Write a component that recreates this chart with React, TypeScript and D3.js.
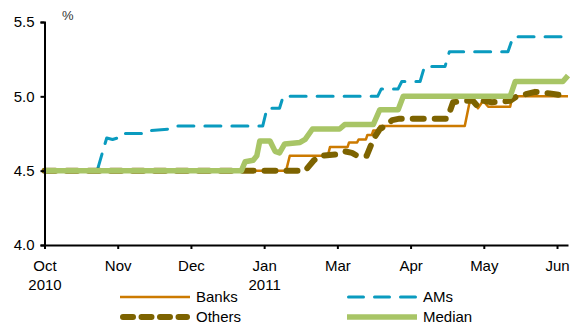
import React, { useEffect, useRef } from 'react';
import * as d3 from 'd3';

// x positions are in "tick units": 0 = Oct 2010, 7 = Jun 2011 (ticks evenly spaced)
const tickLabels = ['Oct', 'Nov', 'Dec', 'Jan', 'Mar', 'Apr', 'May', 'Jun'];
const tickYears = ['2010', '', '', '2011', '', '', '', ''];
const yTicks = [4.0, 4.5, 5.0, 5.5];

const banks: [number, number][] = [
	[0, 4.5], [3.3, 4.5], [3.35, 4.6], [3.87, 4.6], [3.9, 4.66], [4.14, 4.66],
	[4.16, 4.69], [4.27, 4.69], [4.29, 4.71], [4.39, 4.71], [4.41, 4.74],
	[4.47, 4.74], [4.49, 4.77], [4.55, 4.77], [4.58, 4.8], [5.74, 4.8],
	[5.81, 4.97], [5.85, 4.97], [5.92, 4.92], [5.99, 4.97], [6.06, 4.93],
	[6.36, 4.93], [6.39, 5.0], [7.15, 5.0],
];

const ams: [number, number][] = [
	[0, 4.5], [0.72, 4.5], [0.79, 4.62], [0.85, 4.72], [0.93, 4.71], [1.0, 4.72],
	[1.05, 4.75], [1.4, 4.75], [1.46, 4.77], [1.7, 4.78], [1.8, 4.8],
	[2.98, 4.8], [3.04, 4.92], [3.21, 4.92], [3.26, 5.0], [4.55, 5.0],
	[4.6, 5.05], [4.83, 5.05], [4.88, 5.1], [5.13, 5.1], [5.19, 5.2],
	[5.47, 5.2], [5.53, 5.3], [6.33, 5.3], [6.4, 5.4], [7.15, 5.4],
];

const others: [number, number][] = [
	[0, 4.5], [3.56, 4.5], [3.68, 4.57], [3.76, 4.6], [4.0, 4.61], [4.1, 4.63],
	[4.2, 4.62], [4.27, 4.6], [4.4, 4.6], [4.5, 4.72], [4.58, 4.78],
	[4.65, 4.8], [4.75, 4.84], [4.85, 4.85], [5.5, 4.85], [5.58, 4.96],
	[5.74, 4.97], [5.85, 4.97], [5.92, 4.93], [5.99, 4.97], [6.11, 4.96],
	[6.36, 4.97], [6.45, 5.0], [6.7, 5.03], [6.9, 5.02], [7.15, 5.0],
];

const median: [number, number][] = [
	[0, 4.5], [2.69, 4.5], [2.74, 4.56], [2.85, 4.57], [2.9, 4.6], [2.94, 4.7],
	[3.08, 4.7], [3.15, 4.63], [3.21, 4.62], [3.28, 4.68], [3.49, 4.69],
	[3.56, 4.71], [3.66, 4.78], [4.03, 4.78], [4.1, 4.81], [4.49, 4.81],
	[4.58, 4.91], [4.83, 4.91], [4.9, 5.0], [6.36, 5.0], [6.43, 5.1],
	[7.08, 5.1], [7.15, 5.14],
];

const series = [
	{ name: 'Banks', data: banks, color: '#CC7A00', width: 2.5, dash: null, cap: 'butt' },
	{ name: 'AMs', data: ams, color: '#0A9BBF', width: 3, dash: '16 11', cap: 'round' },
	{ name: 'Others', data: others, color: '#7D6300', width: 6, dash: '11 11', cap: 'round' },
	{ name: 'Median', data: median, color: '#A8C566', width: 5.5, dash: null, cap: 'butt' },
];

const W = 570;
const H = 327;
const FONT = 'Arial, "Liberation Sans", sans-serif';

export default function App() {
	const ref = useRef<SVGSVGElement | null>(null);

	useEffect(() => {
		const svg = d3.select(ref.current);
		svg.selectAll('*').remove();

		const x = d3.scaleLinear().domain([0, 7.15]).range([44.5, 568]);
		const y = d3.scaleLinear().domain([4, 5.5]).range([245, 22]);

		// lines
		const line = d3
			.line<[number, number]>()
			.x((d) => x(d[0]))
			.y((d) => y(d[1]));

		series.forEach((s) => {
			svg.append('path')
				.datum(s.data)
				.attr('fill', 'none')
				.attr('stroke', s.color)
				.attr('stroke-width', s.width)
				.attr('stroke-linecap', s.cap)
				.attr('stroke-linejoin', 'round')
				.attr('stroke-dasharray', s.dash)
				.attr('d', line);
		});

		// y axis
		const yAxis = svg
			.append('g')
			.attr('transform', `translate(${x(0)},0)`)
			.call(
				d3.axisLeft(y).tickValues(yTicks).tickSize(4).tickPadding(6)
					.tickFormat(d3.format('.1f'))
			);
		yAxis.select('.domain').attr('stroke', '#000').attr('stroke-width', 2);
		yAxis.selectAll('.tick line').attr('stroke', '#000').attr('stroke-width', 2);
		yAxis.selectAll('text')
			.attr('fill', '#000')
			.style('font-family', FONT)
			.style('font-size', '15px');

		// x axis
		const xAxis = svg
			.append('g')
			.attr('transform', `translate(0,${y(4)})`)
			.call(
				d3.axisBottom(x).tickValues(d3.range(tickLabels.length)).tickSize(4)
					.tickSizeOuter(0).tickFormat(() => '')
			);
		xAxis.select('.domain').attr('stroke', '#000').attr('stroke-width', 2);
		xAxis.selectAll('.tick line').attr('stroke', '#000').attr('stroke-width', 2);
		xAxis.selectAll<SVGTextElement, number>('.tick text').each(function (d) {
			const t = d3.select(this)
				.attr('fill', '#000')
				.attr('y', 0)
				.attr('dy', null)
				.style('font-family', FONT)
				.style('font-size', '15px');
			t.append('tspan').attr('x', 0).attr('y', 26).text(tickLabels[d]);
			if (tickYears[d]) t.append('tspan').attr('x', 0).attr('y', 45).text(tickYears[d]);
		});

		// unit label
		svg.append('text')
			.attr('x', 62)
			.attr('y', 20)
			.attr('fill', '#333')
			.style('font-family', FONT)
			.style('font-size', '13px')
			.text('%');

		// legend
		const legendPos = [
			[120, 297],
			[347, 297],
			[120, 317],
			[347, 317],
		];
		series.forEach((s, i) => {
			const [lx, ly] = legendPos[i];
			const g = svg.append('g').attr('transform', `translate(${lx},${ly})`);
			const pad = s.cap === 'round' ? s.width / 2 : 0;
			g.append('line')
				.attr('x1', pad)
				.attr('x2', 70 - pad)
				.attr('stroke', s.color)
				.attr('stroke-width', s.width)
				.attr('stroke-linecap', s.cap)
				.attr('stroke-dasharray', s.name === 'Others' ? '10 8.5' : s.name === 'AMs' ? '15 11' : null);
			g.append('text')
				.attr('x', 76)
				.attr('dy', '0.35em')
				.attr('fill', '#000')
				.style('font-family', FONT)
				.style('font-size', '15px')
				.text(s.name);
		});
	}, []);

	return (
		<div style={{ position: 'absolute', left: 0, top: 0 }}>
			<svg ref={ref} width={W} height={H} style={{ display: 'block', background: '#fff' }} />
		</div>
	);
}
